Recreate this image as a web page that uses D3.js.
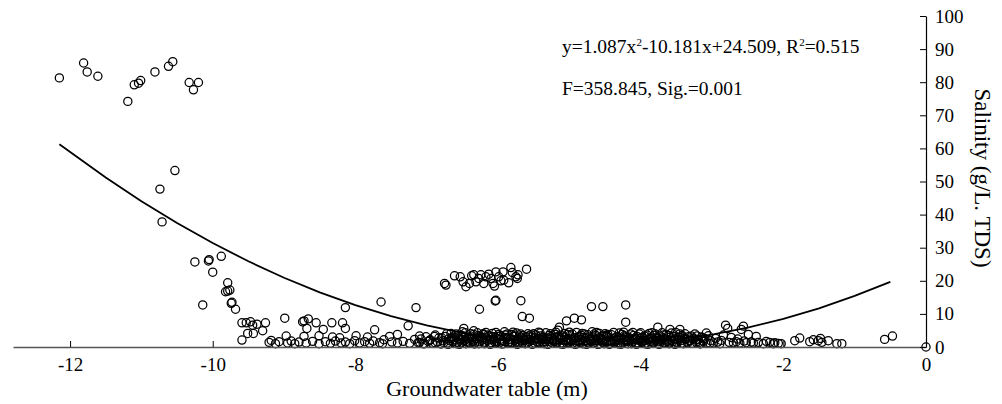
<!DOCTYPE html>
<html>
<head>
<meta charset="utf-8">
<script src="https://cdn.jsdelivr.net/npm/d3@7"></script>
<style>
html,body{margin:0;padding:0;background:#fff;}
svg{display:block;}
text{font-family:"Liberation Serif","Times New Roman",serif;fill:#000;}
</style>
</head>
<body>
<svg id="chart" width="1002" height="404"></svg>
<script>
// ---- Data (groundwater table in m, salinity in g/L TDS) ----
const highPts = [
  [-12.15,81.3],[-11.81,85.8],[-11.76,83.1],[-11.61,81.8],[-11.19,74.2],[-11.10,79.2],
  [-11.04,79.7],[-11.01,80.5],[-10.81,83.1],[-10.62,84.8],[-10.56,86.2],[-10.33,79.9],
  [-10.27,77.7],[-10.20,79.9],[-10.53,53.3],[-10.74,47.7],[-10.71,37.8]
];
const declinePts = [
  [-10.25,25.7],[-10.06,26.0],[-10.05,26.4],[-9.88,27.4],[-10.00,22.6],[-9.79,19.4],
  [-9.82,16.7],[-9.79,16.9],[-9.76,17.2],[-10.14,12.7],[-9.74,13.2],[-9.73,13.5],
  [-9.68,11.4],[-9.59,7.3],[-9.53,7.3],[-9.47,7.6],[-9.44,6.6],[-9.38,6.9],[-9.26,7.3]
];
const leftLowPts = [
  [-9.59,2.1],[-9.51,4.1],[-9.43,4.1],[-9.30,4.9],[-9.21,1.4],[-9.18,2.0],[-9.12,1.0],
  [-9.07,1.6],[-8.99,8.7],[-8.97,3.3],[-8.95,1.2],[-8.90,1.8],[-8.85,1.0],[-8.79,1.5],
  [-8.74,7.6],[-8.72,7.9],[-8.72,3.2],[-8.69,1.2],[-8.68,5.6],[-8.66,8.5],[-8.60,1.7],
  [-8.55,7.3],[-8.51,3.4],[-8.51,1.0],[-8.45,5.3],[-8.42,1.6],[-8.35,1.1],[-8.33,7.3],
  [-8.32,3.0],[-8.28,1.8],[-8.22,2.8],[-8.20,1.2],[-8.18,7.3],[-8.14,5.6],[-8.14,11.9],
  [-8.14,1.5],[-8.08,1.0],[-8.01,1.9],[-7.99,3.4],[-7.94,1.2],[-7.87,1.6],[-7.83,3.0],
  [-7.80,1.1],[-7.75,1.8],[-7.73,5.2],[-7.66,1.3],[-7.64,13.6],[-7.62,1.0],[-7.60,2.2],
  [-7.52,3.2],[-7.49,1.5],[-7.41,3.8],[-7.41,1.2],[-7.33,1.7],[-7.26,6.4],[-7.24,1.1],
  [-7.17,2.3],[-7.15,11.9],[-7.10,3.3],[-7.10,1.4],[-7.03,1.0],[-6.96,2.0],[-6.89,3.2],
  [-6.88,1.2]
];
const midClusterPts = [
  [-6.75,19.2],[-6.73,18.7],[-6.61,21.5],[-6.53,21.2],[-6.49,19.7],[-6.45,18.2],
  [-6.40,19.2],[-6.37,21.5],[-6.34,21.8],[-6.31,19.7],[-6.27,20.7],[-6.24,21.8],
  [-6.20,19.2],[-6.17,21.2],[-6.13,22.0],[-6.10,20.7],[-6.07,19.2],[-6.05,18.4],
  [-6.03,22.7],[-5.99,21.2],[-5.96,20.0],[-5.93,22.7],[-5.92,20.2],[-5.85,19.4],
  [-5.82,24.0],[-5.80,22.5],[-5.75,21.2],[-5.73,20.7],[-5.72,21.8],[-5.60,23.5]
];
const scatteredPts = [
  [-6.48,5.6],[-6.34,4.9],[-5.66,9.2],[-5.56,8.7],[-5.14,6.0],[-5.16,5.1],[-5.04,7.9],
  [-4.93,8.7],[-4.83,8.2],[-4.21,7.5],[-3.76,6.0],[-3.59,5.3],[-3.45,5.3],[-4.69,12.2],
  [-4.53,12.2],[-4.21,12.7],[-6.26,11.4],[-6.04,13.9],[-6.03,14.1],[-5.68,14.0]
];
const bandPts = [
  [-7.12,1.3],[-7.08,2.4],[-7.05,1.0],[-7.01,3.1],[-6.98,1.7],[-6.95,2.2],[-6.92,1.1],[-6.88,3.6],
  [-6.85,1.5],[-6.83,2.7],[-6.80,0.9],[-6.77,1.9],[-6.74,3.2],[-6.71,1.2],[-6.69,2.5],[-6.66,4.1],
  [-6.63,1.6],[-6.61,2.9],[-6.58,1.0],[-6.56,3.5],[-6.53,2.1],[-6.51,1.3],[-6.48,2.8],[-6.46,4.3],
  [-6.44,1.7],[-6.41,3.0],[-6.39,1.1],[-6.37,2.3],[-6.34,3.8],[-6.32,1.5],[-6.30,2.6],[-6.27,1.0],
  [-6.25,3.3],[-6.23,2.0],[-6.21,4.0],[-6.18,1.4],[-6.16,2.7],[-6.14,3.6],[-6.12,1.1],[-6.10,2.2],
  [-6.07,3.1],[-6.05,1.6],[-6.03,4.4],[-6.01,2.5],[-5.98,1.2],[-5.96,3.4],[-5.94,2.0],[-5.92,1.0],
  [-5.89,2.9],[-5.87,3.9],[-5.85,1.5],[-5.83,2.4],[-5.80,1.1],[-5.78,3.2],[-5.76,2.1],[-5.74,4.2],
  [-5.71,1.3],[-5.69,2.8],[-5.67,1.8],[-5.65,3.5],[-5.62,1.0],[-5.60,2.3],[-5.58,4.0],[-5.56,1.6],
  [-5.53,3.0],[-5.51,2.0],[-5.49,1.2],[-5.47,3.7],[-5.44,2.6],[-5.42,1.4],[-5.40,3.3],[-5.38,2.2],
  [-5.35,1.0],[-5.33,4.3],[-5.31,2.7],[-5.29,1.7],[-5.26,3.1],[-5.24,1.2],[-5.22,2.4],[-5.20,3.8],
  [-5.17,1.5],[-5.15,2.9],[-5.13,1.0],[-5.11,3.4],[-5.08,2.1],[-5.06,4.1],[-5.04,1.3],[-5.02,2.6],
  [-4.99,3.6],[-4.97,1.8],[-4.95,1.1],[-4.93,2.8],[-4.90,4.4],[-4.88,1.6],[-4.86,3.2],[-4.84,2.3],
  [-4.81,1.0],[-4.79,3.9],[-4.77,2.0],[-4.75,1.4],[-4.72,3.0],[-4.70,2.5],[-4.68,4.6],[-4.66,1.2],
  [-4.63,3.5],[-4.61,1.9],[-4.59,2.7],[-4.57,1.0],[-4.54,3.3],[-4.52,2.2],[-4.50,4.0],[-4.48,1.5],
  [-4.45,2.9],[-4.43,1.1],[-4.41,3.7],[-4.39,2.4],[-4.36,1.7],[-4.34,3.1],[-4.32,1.0],[-4.30,4.2],
  [-4.27,2.6],[-4.25,1.3],[-4.23,3.4],[-4.21,2.0],[-4.18,1.0],[-4.16,2.8],[-4.14,3.9],[-4.12,1.5],
  [-4.09,2.3],[-4.07,1.1],[-4.05,3.2],[-4.03,2.0],[-4.00,4.3],[-3.98,1.4],[-3.96,2.7],[-3.94,1.0],
  [-3.91,3.6],[-3.89,2.2],[-3.87,1.6],[-3.85,3.0],[-3.82,1.2],[-3.80,4.0],[-3.78,2.5],[-3.76,1.0],
  [-3.73,3.3],[-3.71,1.8],[-3.69,2.8],[-3.67,1.3],[-3.64,3.8],[-3.62,2.1],[-3.60,1.0],[-3.58,3.0],
  [-3.55,1.6],[-3.53,2.4],[-3.51,4.4],[-3.49,1.2],[-3.46,2.9],[-3.44,1.9],[-3.42,3.5],[-3.40,1.0],
  [-3.37,2.3],[-3.35,1.5],[-3.33,3.1],[-3.31,2.0],[-3.28,1.1],[-3.26,2.7],[-3.24,3.9],[-3.22,1.4],
  [-3.19,2.2],[-3.17,1.0],[-3.15,3.0],[-3.12,1.7],[-3.10,2.5],[-3.07,1.2],[-3.05,3.4],[-3.02,1.9]
];
const bandCorePts = [
  [-6.62,2.2],[-6.57,1.4],[-6.52,3.6],[-6.47,2.0],[-6.42,1.2],[-6.36,3.0],[-6.31,2.4],[-6.26,1.6],
  [-6.20,3.7],[-6.15,2.0],[-6.09,1.3],[-6.04,2.9],[-5.99,3.8],[-5.93,1.7],[-5.88,2.6],[-5.82,1.3],
  [-5.77,3.6],[-5.72,2.4],[-5.66,1.2],[-5.61,3.1],[-5.55,2.2],[-5.50,4.0],[-5.45,1.5],[-5.39,2.8],
  [-5.34,1.6],[-5.28,3.5],[-5.23,2.0],[-5.18,1.1],[-5.12,2.6],[-5.07,3.0],[-5.01,1.5],[-4.96,3.9],
  [-4.91,2.0],[-4.85,1.3],[-4.80,2.9],[-4.74,3.7],[-4.69,1.8],[-4.64,2.4],[-4.58,4.1],[-4.53,1.4],
  [-4.47,3.2],[-4.42,2.0],[-4.37,1.2],[-4.31,2.9],[-4.26,3.8],[-4.20,1.6],[-4.15,2.4],[-4.10,3.5],
  [-4.04,1.2],[-3.99,2.9],[-3.93,2.0],[-3.88,4.1],[-3.83,1.5],[-3.77,3.0],[-3.72,2.3],[-3.66,1.1],
  [-3.61,3.5],[-3.56,2.0],[-3.50,1.5],[-3.45,3.9],[-3.39,2.6],[-3.34,1.2],[-3.29,3.3],[-3.23,2.1],
  [-3.18,1.4],[-3.13,2.8],[-3.08,4.2],[-3.03,1.1]
];
const bandExtraPts = [
  [-6.79,2.8],[-6.76,1.3],[-6.72,4.0],[-6.68,1.9],[-6.64,3.0],[-6.60,1.1],[-6.55,2.5],[-6.50,4.6],
  [-6.45,1.0],[-6.40,2.6],[-6.35,1.8],[-6.29,4.3],[-6.24,2.9],[-6.19,1.0],[-6.13,3.3],[-6.08,4.1],
  [-6.02,1.4],[-5.97,2.3],[-5.91,4.6],[-5.86,1.1],[-5.81,3.8],[-5.75,1.5],[-5.70,3.3],[-5.64,2.4],
  [-5.59,1.2],[-5.54,3.7],[-5.48,2.7],[-5.43,4.5],[-5.37,1.3],[-5.32,2.5],[-5.27,4.0],[-5.21,1.7],
  [-5.16,3.2],[-5.10,1.2],[-5.05,2.2],[-5.00,4.5],[-4.94,2.4],[-4.89,1.0],[-4.83,3.5],[-4.78,2.6],
  [-4.73,1.1],[-4.67,3.0],[-4.62,4.4],[-4.56,2.1],[-4.51,1.0],[-4.46,3.8],[-4.40,1.6],[-4.35,2.7],
  [-4.29,1.3],[-4.24,4.5],[-4.19,2.9],[-4.13,1.0],[-4.08,2.7],[-4.02,3.9],[-3.97,1.8],[-3.92,1.2],
  [-3.86,2.6],[-3.81,3.5],[-3.75,1.6],[-3.70,4.3],[-3.65,2.4],[-3.59,1.3],[-3.54,3.2],[-3.48,2.3],
  [-3.43,1.1],[-3.38,4.0],[-3.32,1.9],[-3.27,2.4],[-3.21,3.3],[-3.16,1.0]
];
const bandFillPts = [
  [-6.70,0.8],[-6.65,2.6],[-6.59,3.9],[-6.54,0.8],[-6.49,3.3],[-6.43,2.4],[-6.38,4.0],[-6.33,0.9],
  [-6.28,3.4],[-6.22,2.7],[-6.17,4.4],[-6.11,0.8],[-6.06,2.4],[-6.00,3.2],[-5.95,0.9],[-5.90,3.6],
  [-5.84,2.2],[-5.79,4.5],[-5.73,0.8],[-5.68,3.9],[-5.63,2.0],[-5.57,3.3],[-5.52,0.8],[-5.46,2.3],
  [-5.41,4.2],[-5.36,2.9],[-5.30,0.8],[-5.25,2.6],[-5.19,4.5],[-5.14,2.2],[-5.09,0.8],[-5.03,3.8],
  [-4.98,2.2],[-4.92,0.8],[-4.87,3.0],[-4.82,4.1],[-4.76,0.8],[-4.71,2.1],[-4.65,3.9],[-4.60,0.8],
  [-4.55,2.5],[-4.49,3.5],[-4.44,0.8],[-4.38,4.4],[-4.33,2.2],[-4.28,0.8],[-4.22,3.0],[-4.17,1.9],
  [-4.11,4.4],[-4.06,0.8],[-4.01,2.5],[-3.95,3.3],[-3.90,0.8],[-3.84,4.3],[-3.79,2.0],[-3.74,0.8],
  [-3.68,3.6],[-3.63,1.6],[-3.57,4.2],[-3.52,0.8],[-3.47,2.2],[-3.41,3.0]
];
const rightTailPts = [
  [-2.98,1.2],[-2.95,2.6],[-2.92,1.5],[-2.89,1.0],[-2.87,2.0],[-2.84,3.6],[-2.81,6.6],[-2.78,5.6],
  [-2.76,1.4],[-2.73,2.9],[-2.70,1.3],[-2.66,1.6],[-2.64,2.4],[-2.61,1.2],[-2.59,5.3],[-2.56,6.3],
  [-2.55,1.8],[-2.52,1.3],[-2.49,3.8],[-2.45,1.5],[-2.42,1.2],[-2.38,3.2],[-2.35,1.4],[-2.28,1.0],
  [-2.24,1.7],[-2.19,1.4],[-2.14,1.0],[-2.12,1.3],[-2.07,1.1],[-2.03,1.0],[-1.84,1.9],[-1.77,2.7],
  [-1.63,1.6],[-1.58,2.2],[-1.51,1.9],[-1.48,2.6],[-1.46,1.4],[-1.37,1.9],[-1.25,1.0],[-1.18,1.0],
  [-0.58,2.3],[-0.47,3.3],[0,0]
];
// fitted curve
const curveDepth = [-12.15,-11.5,-11,-10.5,-10,-9.5,-9,-8.5,-8,-7.5,-7,-6.5,-6,-5.5,-5,-4.5,-4,-3.5,-3,-2.5,-2,-1.5,-1,-0.5];
const curveSalinity = [61.27,51.19,44.05,37.45,31.40,25.89,20.93,16.51,12.63,9.30,6.50,4.26,2.56,1.39,0.78,0.71,1.18,2.19,3.75,5.85,8.50,11.69,15.42,19.69];
const xTicks = [-12,-10,-8,-6,-4,-2,0];
const yTicks = [0,10,20,30,40,50,60,70,80,90,100];

// ---- Drawing ----
const svg = d3.select("#chart");
const x = d3.scaleLinear().domain([-12.8, 0]).range([13, 926]);
const y = d3.scaleLinear().domain([0, 100]).range([347, 16]);

const allPts = [].concat(highPts, declinePts, leftLowPts, midClusterPts, scatteredPts,
  bandPts, bandCorePts, bandExtraPts, bandFillPts, rightTailPts);

svg.append("g").selectAll("circle").data(allPts).join("circle")
  .attr("cx", d => x(d[0])).attr("cy", d => y(d[1])).attr("r", 4.1)
  .attr("fill", "none").attr("stroke", "#000").attr("stroke-width", 1.25);

const curve = curveDepth.map((d, i) => [d, curveSalinity[i]]);
svg.append("path").datum(curve)
  .attr("d", d3.line().x(d => x(d[0])).y(d => y(d[1])))
  .attr("fill", "none").attr("stroke", "#000").attr("stroke-width", 1.8);

// x axis
const gx = svg.append("g").attr("transform", "translate(0,347)")
  .call(d3.axisBottom(x).tickValues(xTicks).tickFormat(d3.format("d"))
    .tickSizeInner(-6).tickSizeOuter(0).tickPadding(11));
gx.select(".domain").attr("stroke", "#555").attr("stroke-width", 1.6);
gx.selectAll(".tick line").attr("stroke", "#000");
gx.selectAll("text").style("font-size", "19px").text(d => d === 0 ? "0" : "-" + Math.abs(d));

// y axis (right)
const gy = svg.append("g").attr("transform", "translate(926,0)")
  .call(d3.axisRight(y).tickValues(yTicks).tickSizeInner(-6).tickSizeOuter(0).tickPadding(9));
gy.select(".domain").attr("stroke", "#000").attr("stroke-width", 1.2);
gy.selectAll(".tick line").attr("stroke", "#000");
gy.selectAll("text").style("font-size", "19px");

// titles
svg.append("text").attr("x", 487).attr("y", 396).attr("text-anchor", "middle")
  .style("font-size", "22px").text("Groundwater table (m)");
svg.append("text").attr("transform", "translate(975,178) rotate(90)").attr("text-anchor", "middle")
  .style("font-size", "23px").text("Salinity (g/L. TDS)");

// annotations
const t1 = svg.append("text").attr("x", 562).attr("y", 53).style("font-size", "19.5px");
t1.append("tspan").text("y=1.087x");
t1.append("tspan").attr("dy", -7).style("font-size", "11px").text("2");
t1.append("tspan").attr("dy", 7).text("-10.181x+24.509, R");
t1.append("tspan").attr("dy", -7).style("font-size", "11px").text("2");
t1.append("tspan").attr("dy", 7).text("=0.515");
svg.append("text").attr("x", 562).attr("y", 95).style("font-size", "19.5px").text("F=358.845, Sig.=0.001");
</script>
</body>
</html>
